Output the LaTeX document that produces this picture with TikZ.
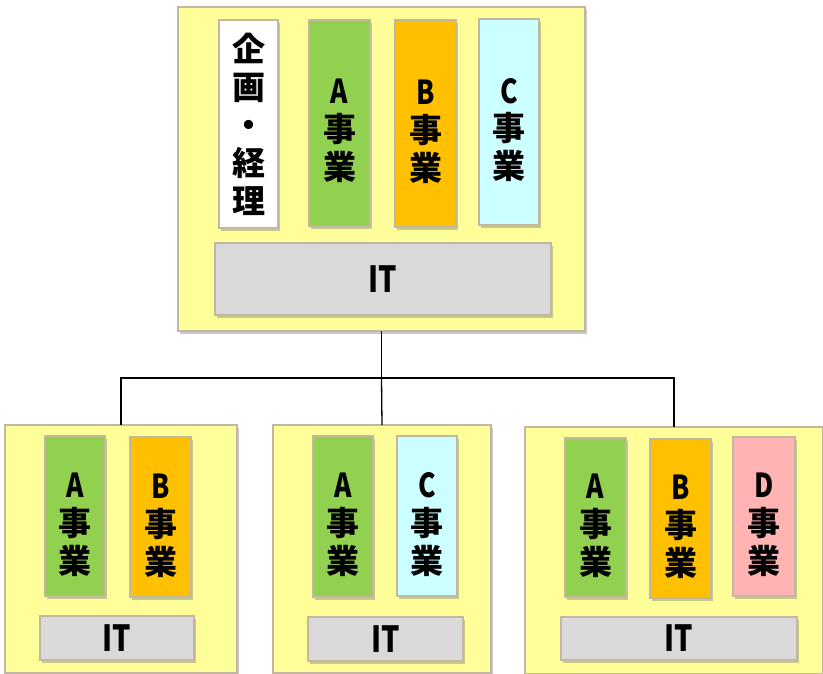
\documentclass[tikz,border=0pt]{standalone}
\usepackage{fontspec}
\setmainfont{Noto Sans CJK JP}
\newfontfamily\ltr{Noto Sans CJK JP}[FakeStretch=0.8]
\usetikzlibrary{shadows}
\definecolor{boxyellow}{HTML}{FFFF99}
\definecolor{edgetan}{HTML}{C3B6A3}
\definecolor{colA}{HTML}{92D050}
\definecolor{colB}{HTML}{FFC000}
\definecolor{colC}{HTML}{CCFFFF}
\definecolor{colD}{HTML}{FFB3B3}
\definecolor{colIT}{HTML}{D9D9D9}
\tikzset{
  unit/.style={draw=edgetan, line width=1.6pt, inner sep=0pt, outer sep=0pt,
    drop shadow={shadow xshift=2pt, shadow yshift=-3pt, opacity=0.35, fill=black!60}},
  company/.style={unit, fill=boxyellow},
  bizcol/.style={unit, align=center, font=\bfseries\fontsize{33}{38}\selectfont},
  trio/.style={bizcol, text height=118pt, text depth=4pt},
  itbar/.style={unit, fill=colIT, font=\bfseries\fontsize{36}{40}\selectfont}
}
\begin{document}
\begin{tikzpicture}[x=1pt,y=-1pt]
\useasboundingbox (0,0) rectangle (823,674);
\node[company, minimum width=407, minimum height=324] (hq) at (381.5,169) {};
\node[bizcol, fill=white, minimum width=59, minimum height=208] (hqplan) at (248.5,124) {企\\画\\・\\経\\理};
\node[trio, fill=colA, minimum width=61, minimum height=206] (hqA) at (339.5,123) {{\ltr A}\\事\\業};
\node[trio, fill=colB, minimum width=61, minimum height=207] (hqB) at (425.5,123.5) {{\ltr B}\\事\\業};
\node[trio, fill=colC, minimum width=60, minimum height=206] (hqC) at (509,122) {{\ltr C}\\事\\業};
\node[itbar, minimum width=336, minimum height=72] (hqIT) at (383,279) {{\ltr IT}};

\node[company, minimum width=232, minimum height=248] (subL) at (121,549) {};
\node[trio, fill=colA, minimum width=60, minimum height=160] (subLA) at (75,516) {{\ltr A}\\事\\業};
\node[trio, fill=colB, minimum width=61, minimum height=160] (subLB) at (160.5,517) {{\ltr B}\\事\\業};
\node[itbar, minimum width=154, minimum height=44] (subLIT) at (117,638) {{\ltr IT}};

\node[company, minimum width=218, minimum height=248] (subM) at (382,549) {};
\node[trio, fill=colA, minimum width=60, minimum height=161] (subMA) at (343,516.5) {{\ltr A}\\事\\業};
\node[trio, fill=colC, minimum width=60, minimum height=160] (subMC) at (427,516) {{\ltr C}\\事\\業};
\node[itbar, minimum width=155, minimum height=44] (subMIT) at (385.5,639) {{\ltr IT}};

\node[company, minimum width=298, minimum height=247] (subR) at (674,550.5) {};
\node[trio, fill=colA, minimum width=61, minimum height=159] (subRA) at (595.5,517.5) {{\ltr A}\\事\\業};
\node[trio, fill=colB, minimum width=61, minimum height=159] (subRB) at (680.5,518.5) {{\ltr B}\\事\\業};
\node[trio, fill=colD, minimum width=62, minimum height=159] (subRD) at (764,516.5) {{\ltr D}\\事\\業};
\node[itbar, minimum width=236, minimum height=43] (subRIT) at (679,638.5) {{\ltr IT}};

\coordinate (bus) at (381.5,378);
\draw[line width=1.3pt] (hq.south) -- (bus);
\draw[line width=1.3pt] (bus) -| (subL.north);
\draw[line width=1.3pt] (bus) -- (subM.north);
\draw[line width=1.3pt] (bus) -| (subR.north);
\end{tikzpicture}
\end{document}
